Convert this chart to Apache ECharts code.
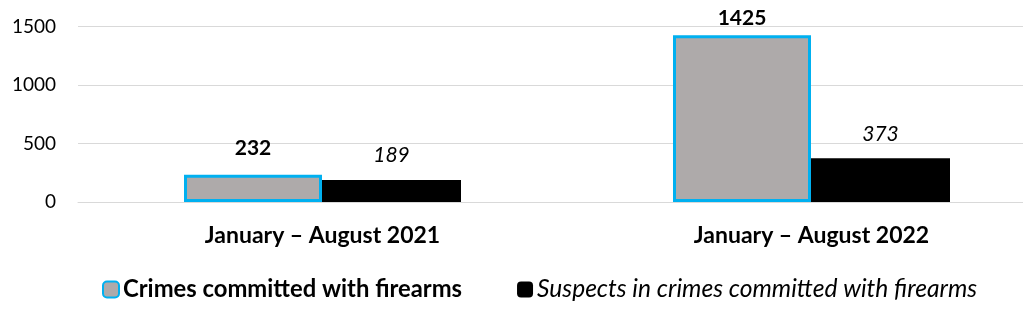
<!DOCTYPE html>
<html>
<head>
<meta charset="utf-8">
<script src="https://cdn.jsdelivr.net/npm/echarts@6/dist/echarts.min.js"></script>
<style>html,body{margin:0;padding:0;background:#fff;overflow:hidden;width:1023px;height:320px}#c{width:1056px;height:320px}</style>
</head>
<body>
<div id="c"></div>
<script>
const categories = ['January – August 2021', 'January – August 2022'];
const crimes = [232, 1425];
const suspects = [189, 373];
const seriesNames = ['Crimes committed with firearms', 'Suspects in crimes committed with firearms'];
const yTicks = [0, 500, 1000, 1500];

const FONT = 'Lato';
const chart = echarts.init(document.getElementById('c'), null, {renderer: 'canvas'});
chart.setOption({
  animation: false,
  textStyle: {fontFamily: FONT},
  grid: {left: 78, right: 0, top: 26.5, bottom: 118},
  legend: {
    top: 272, left: 97,
    itemWidth: 16, itemHeight: 16, itemGap: 55,
    data: [
      {name: seriesNames[0], textStyle: {fontWeight: 'bold', fontStyle: 'normal', fontSize: 23.8}},
      {name: seriesNames[1], textStyle: {fontWeight: 'normal', fontStyle: 'italic', fontSize: 24.6}}
    ],
    textStyle: {fontFamily: FONT, fontSize: 24, color: '#000', padding: [0, 0, 0, -1]}
  },
  xAxis: {
    type: 'category', data: categories,
    axisLine: {show: true, lineStyle: {color: '#D9D9D9', width: 1}},
    axisTick: {show: false},
    axisLabel: {fontFamily: FONT, fontSize: 23, fontWeight: 'bold', color: '#000', margin: 22}
  },
  yAxis: {
    type: 'value', min: yTicks[0], max: yTicks[yTicks.length - 1], interval: 500,
    axisLine: {show: false}, axisTick: {show: false},
    splitLine: {lineStyle: {color: '#D9D9D9', width: 1}},
    axisLabel: {fontFamily: FONT, fontSize: 19, color: '#000', margin: 22, formatter: v => String(v)}
  },
  series: [
    {
      name: seriesNames[0], type: 'bar', barWidth: 138, barGap: '0%',
      itemStyle: {color: '#AEAAAA', borderColor: '#00B0F0', borderWidth: 3},
      label: {show: true, position: 'top', distance: 16, fontFamily: FONT, fontSize: 21, fontWeight: 'bold', color: '#000'},
      data: crimes.map((v, i) => i === 1 ? {value: v, label: {distance: 7}} : v)
    },
    {
      name: seriesNames[1], type: 'bar', barWidth: 139,
      itemStyle: {color: '#000000'},
      label: {show: true, position: 'top', distance: 14, fontFamily: FONT, fontSize: 21, fontStyle: 'italic', color: '#000'},
      data: suspects
    }
  ]
});
</script>
</body>
</html>
